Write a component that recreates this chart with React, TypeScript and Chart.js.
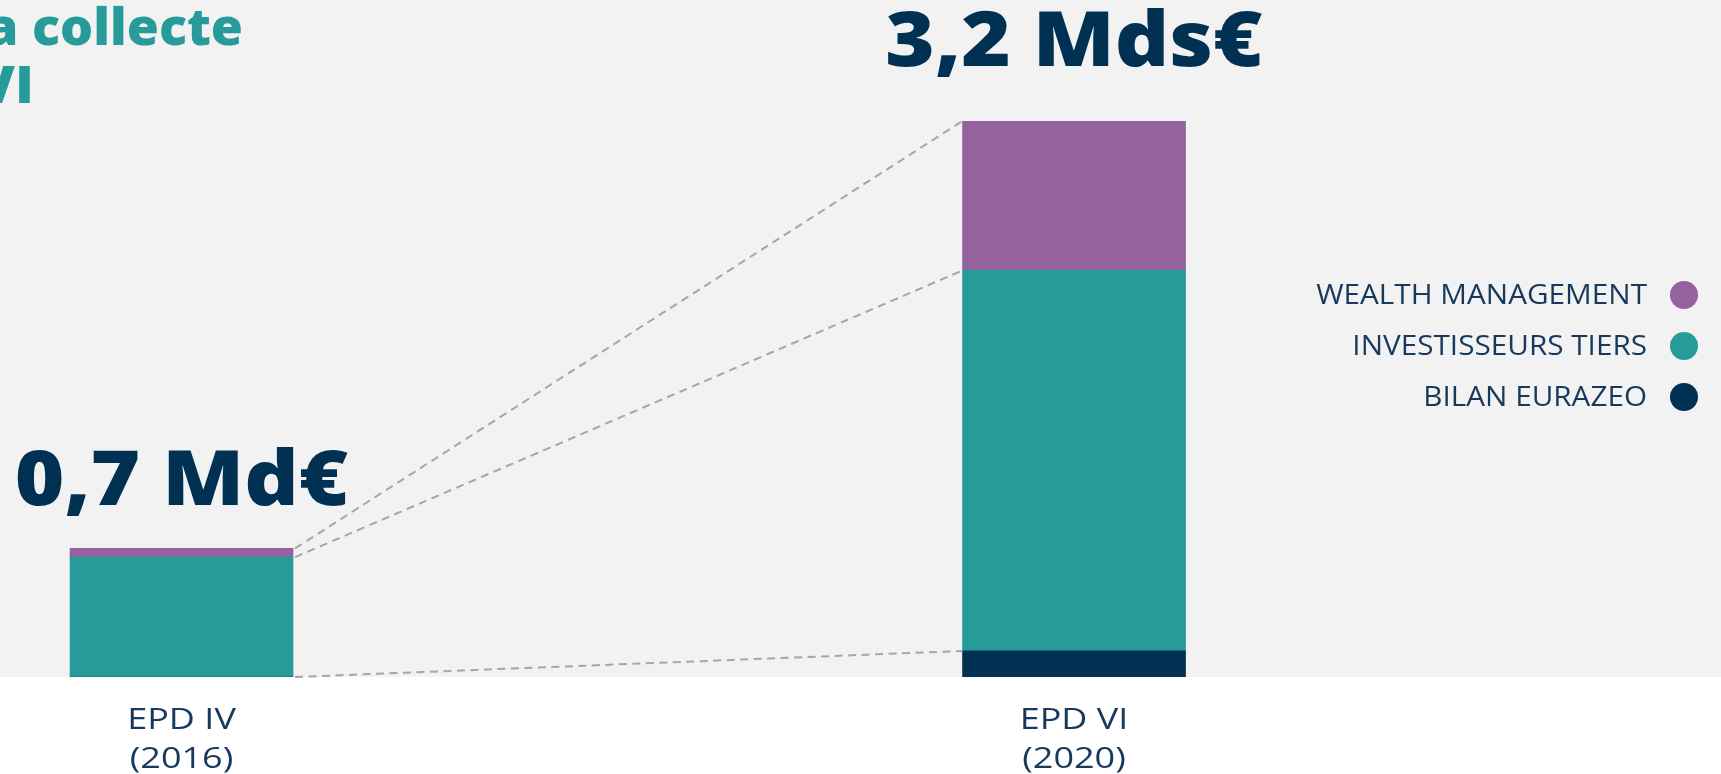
import { useEffect, useRef } from 'react';
import { Chart, registerables } from 'chart.js';

Chart.register(...registerables);

// ---- data ----
const categoryLines = [
  ['EPD IV', '(2016)'],
  ['EPD VI', '(2020)'],
];
const positions = [0, 1];
const bilanEurazeo = [0, 0.15];
const investisseursTiers = [0.69, 2.19];
const wealthManagement = [0.05, 0.86];
const totalLabels = ['0,7 Md€', '3,2 Mds€'];
const seriesNames = ['BILAN EURAZEO', 'INVESTISSEURS TIERS', 'WEALTH MANAGEMENT'];
const titleLines = ['a collecte', 'VI'];

// ---- style ----
const NAVY = '#003052';
const TEAL = '#279b99';
const PURPLE = '#93629f';
const BG = '#f2f2f2';
const TEXT = '#173a5c';
const seriesColors = [NAVY, TEAL, PURPLE];
const W = 1721;
const H = 774;
const labelOffsets = [43, 55];

// draw text stretched horizontally (to imitate a wide geometric face)
function wideText(ctx: CanvasRenderingContext2D, text: string, x: number, y: number, sx: number) {
  ctx.save();
  ctx.translate(x, y);
  ctx.scale(sx, 1);
  ctx.fillText(text, 0, 0);
  ctx.restore();
}

const overlayPlugin = {
  id: 'overlay',
  beforeDraw(chart: any) {
    const { ctx, chartArea } = chart;
    ctx.save();
    ctx.fillStyle = '#ffffff';
    ctx.fillRect(0, 0, W, H);
    ctx.fillStyle = BG;
    ctx.fillRect(0, 0, W, chartArea.bottom);
    ctx.restore();
  },
  afterDatasetsDraw(chart: any) {
    const { ctx } = chart;
    ctx.save();
    // dashed connectors
    ctx.strokeStyle = '#a6a6a6';
    ctx.lineWidth = 2;
    ctx.setLineDash([8, 5.5]);
    for (let d = 0; d < chart.data.datasets.length; d++) {
      const meta = chart.getDatasetMeta(d);
      const a = meta.data[0];
      const b = meta.data[1];
      ctx.beginPath();
      ctx.moveTo(a.x + a.width / 2 + 2, a.y);
      ctx.lineTo(b.x - b.width / 2, b.y);
      ctx.stroke();
    }
    ctx.setLineDash([]);

    // totals above bars
    const topMeta = chart.getDatasetMeta(chart.data.datasets.length - 1);
    ctx.fillStyle = NAVY;
    ctx.textAlign = 'center';
    ctx.textBaseline = 'alphabetic';
    ctx.font = '800 76px "Open Sans"';
    totalLabels.forEach((t, i) => {
      const el = topMeta.data[i];
      wideText(ctx, t, el.x, el.y - labelOffsets[i], 1.115);
    });

    // category labels
    ctx.fillStyle = TEXT;
    ctx.font = '400 30px "Open Sans"';
    categoryLines.forEach((lines, i) => {
      const el = topMeta.data[i];
      wideText(ctx, lines[0], el.x, 729, 1.2);
      wideText(ctx, lines[1], el.x, 768, 1.2);
    });

    // legend
    ctx.textAlign = 'right';
    ctx.textBaseline = 'middle';
    ctx.font = '400 27px "Open Sans"';
    const legendY = [397, 346, 295];
    seriesNames.forEach((n, i) => {
      ctx.fillStyle = TEXT;
      wideText(ctx, n, 1647, legendY[i] + 1, 1.1);
      ctx.fillStyle = seriesColors[i];
      ctx.beginPath();
      ctx.arc(1684, legendY[i], 14, 0, Math.PI * 2);
      ctx.fill();
    });

    // title (cropped)
    ctx.fillStyle = TEAL;
    ctx.textBaseline = 'alphabetic';
    ctx.font = '800 52px "Open Sans"';
    wideText(ctx, titleLines[0], 243, 45, 1.0);
    wideText(ctx, titleLines[1], 34, 103, 1.05);
    ctx.restore();
  },
};

export default function App() {
  const ref = useRef<HTMLCanvasElement | null>(null);
  useEffect(() => {
    document.body.style.margin = '0';
    document.body.style.overflow = 'hidden';
    const canvas = ref.current!;
    const mk = (arr: number[]) => positions.map((x, i) => ({ x, y: arr[i] }));
    const chart = new Chart(canvas, {
      type: 'bar',
      data: {
        datasets: [
          { label: seriesNames[0], data: mk(bilanEurazeo), backgroundColor: NAVY },
          { label: seriesNames[1], data: mk(investisseursTiers), backgroundColor: TEAL },
          { label: seriesNames[2], data: mk(wealthManagement), backgroundColor: PURPLE },
        ],
      },
      options: {
        responsive: false,
        animation: false,
        layout: { padding: { top: 121, bottom: 97, left: 0, right: 0 } },
        datasets: { bar: { barThickness: 223, borderWidth: 0 } } as any,
        scales: {
          x: { type: 'linear', min: -0.2034, max: 1.7249, offset: false, stacked: true, display: false },
          y: { min: 0, max: 3.2, stacked: true, display: false },
        },
        plugins: {
          legend: { display: false },
          tooltip: { enabled: false },
          title: { display: false },
        },
      },
      plugins: [overlayPlugin],
    });
    return () => chart.destroy();
  }, []);
  return (
    <div style={{ width: W, height: H }}>
      <canvas ref={ref} width={W} height={H} style={{ display: 'block' }} />
    </div>
  );
}
